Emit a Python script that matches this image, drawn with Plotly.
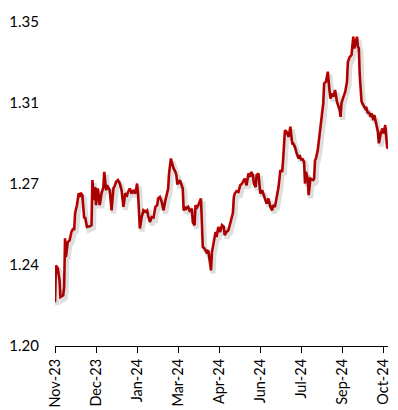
import pandas as pd
import plotly.graph_objects as go

start_date = "2023-11-01"

# day offsets from start_date and exchange-rate values
day_offsets = [0, 1, 3, 5, 6, 9, 10, 11, 12, 14, 16, 18, 20, 21, 22, 23, 24, 26, 27, 28,
               30, 31, 32, 33, 35, 38, 40, 41, 42, 43, 44, 45, 47, 49, 51, 53, 54, 56, 57, 60,
               62, 64, 65, 67, 69, 71, 73, 75, 77, 79, 80, 82, 84, 86, 88, 90, 91, 93, 95, 97,
               99, 101, 102, 104, 106, 108, 110, 112, 113, 115, 117, 119, 121, 123, 124, 125, 127, 128, 130, 132,
               133, 134, 135, 137, 139, 140, 141, 143, 144, 146, 148, 150, 151, 153, 154, 155, 157, 159, 160, 161,
               162, 164, 166, 168, 170, 171, 172, 174, 175, 176, 177, 179, 181, 183, 185, 186, 188, 190, 192, 195,
               196, 197, 199, 201, 203, 205, 207, 208, 210, 212, 214, 215, 217, 218, 220, 221, 223, 225, 227, 229,
               230, 232, 234, 236, 238, 239, 241, 243, 245, 247, 249, 250, 251, 252, 254, 256, 258, 259, 260, 261,
               263, 265, 266, 267, 268, 270, 271, 273, 274, 275, 276, 277, 278, 279, 280, 283, 284, 285, 286, 288,
               289, 291, 292, 294, 295, 297, 299, 300, 301, 302, 304, 305, 307, 309, 311, 312, 313, 314, 316, 318,
               320, 321, 323, 325, 326, 327, 328, 330, 331, 332, 333, 334, 336, 338, 340, 341, 343, 344, 346, 347,
               349, 350, 352, 353, 354, 355, 357, 359, 360, 362, 363, 364, 365]

rates = [1.2203, 1.2373, 1.2360, 1.2304, 1.2227, 1.2235, 1.2273, 1.2499, 1.2412, 1.2481,
         1.2489, 1.2528, 1.2545, 1.2536, 1.2615, 1.2628, 1.2652, 1.2707, 1.2690, 1.2709,
         1.2698, 1.2644, 1.2591, 1.2597, 1.2551, 1.2554, 1.2559, 1.2768, 1.2721, 1.2675,
         1.2736, 1.2652, 1.2730, 1.2652, 1.2707, 1.2736, 1.2806, 1.2721, 1.2744, 1.2721,
         1.2628, 1.2730, 1.2736, 1.2760, 1.2768, 1.2752, 1.2721, 1.2644, 1.2706, 1.2698,
         1.2713, 1.2729, 1.2706, 1.2721, 1.2706, 1.2752, 1.2706, 1.2544, 1.2597, 1.2628,
         1.2621, 1.2628, 1.2605, 1.2574, 1.2597, 1.2595, 1.2644, 1.2652, 1.2683, 1.2690,
         1.2667, 1.2628, 1.2675, 1.2706, 1.2729, 1.2799, 1.2868, 1.2852, 1.2822, 1.2806,
         1.2791, 1.2752, 1.2752, 1.2768, 1.2736, 1.2729, 1.2628, 1.2644, 1.2636, 1.2644,
         1.2621, 1.2636, 1.2574, 1.2559, 1.2652, 1.2636, 1.2652, 1.2675, 1.2683, 1.2567,
         1.2458, 1.2451, 1.2435, 1.2443, 1.2381, 1.2350, 1.2435, 1.2489, 1.2513, 1.2528,
         1.2505, 1.2551, 1.2528, 1.2559, 1.2551, 1.2513, 1.2528, 1.2536, 1.2567, 1.2617,
         1.2689, 1.2706, 1.2717, 1.2713, 1.2744, 1.2752, 1.2768, 1.2775, 1.2744, 1.2799,
         1.2783, 1.2806, 1.2791, 1.2752, 1.2736, 1.2791, 1.2799, 1.2706, 1.2721, 1.2698,
         1.2683, 1.2659, 1.2683, 1.2644, 1.2628, 1.2652, 1.2644, 1.2690, 1.2736, 1.2814,
         1.2806, 1.2860, 1.2938, 1.2999, 1.2991, 1.2968, 1.3015, 1.2976, 1.2938, 1.2938,
         1.2922, 1.2891, 1.2876, 1.2868, 1.2884, 1.2860, 1.2868, 1.2852, 1.2752, 1.2806,
         1.2791, 1.2775, 1.2698, 1.2736, 1.2775, 1.2768, 1.2775, 1.2860, 1.2868, 1.2907,
         1.2945, 1.3007, 1.3069, 1.3123, 1.3216, 1.3223, 1.3270, 1.3208, 1.3177, 1.3146,
         1.3169, 1.3154, 1.3185, 1.3131, 1.3107, 1.3092, 1.3061, 1.3124, 1.3152, 1.3175,
         1.3222, 1.3315, 1.3338, 1.3347, 1.3393, 1.3432, 1.3378, 1.3424, 1.3432, 1.3386,
         1.3378, 1.3254, 1.3131, 1.3115, 1.3100, 1.3107, 1.3077, 1.3084, 1.3061, 1.3077,
         1.3046, 1.3069, 1.3023, 1.3007, 1.2991, 1.2938, 1.2984, 1.3007, 1.2984, 1.3023,
         1.2961, 1.2922, 1.2914]

y_tick_values = [1.20, 1.2375, 1.275, 1.3125, 1.35]
y_tick_labels = ["1.20", "1.24", "1.27", "1.31", "1.35"]
x_tick_interval_days = 45
x_tick_count = 9

dates = pd.Timestamp(start_date) + pd.to_timedelta(day_offsets, unit="D")
x_ticks = pd.date_range(start_date, periods=x_tick_count, freq=f"{x_tick_interval_days}D")

x_start = pd.Timestamp(start_date)
x_end = dates[-1]
x_range = [x_start, x_end]
y_range = [1.20, 1.35]

# shadow offset (in data units, ~2px right / 3px down)
shadow_dx = pd.Timedelta(days=2.3)
shadow_dy = 0.0014

font = dict(family="Lato, 'Open Sans', sans-serif", size=14.5, color="#000000")

fig = go.Figure()
fig.add_trace(go.Scatter(
    x=dates, y=rates, mode="lines", xaxis="x2", yaxis="y2",
    line=dict(color="rgba(0,0,0,0.13)", width=5), hoverinfo="skip", showlegend=False,
))
fig.add_trace(go.Scatter(
    x=dates, y=rates, mode="lines",
    line=dict(color="#C00000", width=2.6), showlegend=False,
))

fig.update_layout(
    width=398, height=410,
    margin=dict(l=55, r=10, t=22, b=64, pad=0),
    paper_bgcolor="white", plot_bgcolor="white",
    font=font,
    xaxis=dict(
        type="date", range=x_range, tickvals=x_ticks, tickformat="%b-%y",
        tickangle=-90, showgrid=False, zeroline=False, automargin=False,
        showline=True, linecolor="#000000", linewidth=1.3,
        ticks="outside", ticklen=6, tickwidth=1.3, tickcolor="#000000",
        tickfont=font,
    ),
    yaxis=dict(
        range=y_range, tickvals=y_tick_values, ticktext=y_tick_labels,
        showgrid=False, zeroline=False, showline=False, ticks="",
        automargin=False, ticklabelstandoff=15, tickfont=dict(font, size=15),
    ),
    xaxis2=dict(
        type="date", overlaying="x", visible=False, automargin=False,
        range=[x_start - shadow_dx, x_end - shadow_dx],
    ),
    yaxis2=dict(
        overlaying="y", visible=False, automargin=False,
        range=[y_range[0] + shadow_dy, y_range[1] + shadow_dy],
    ),
)

fig.write_html(
    "out.html",
    config={"displayModeBar": False},
    post_script="document.body.style.margin='0';document.body.style.overflow='hidden';",
)
